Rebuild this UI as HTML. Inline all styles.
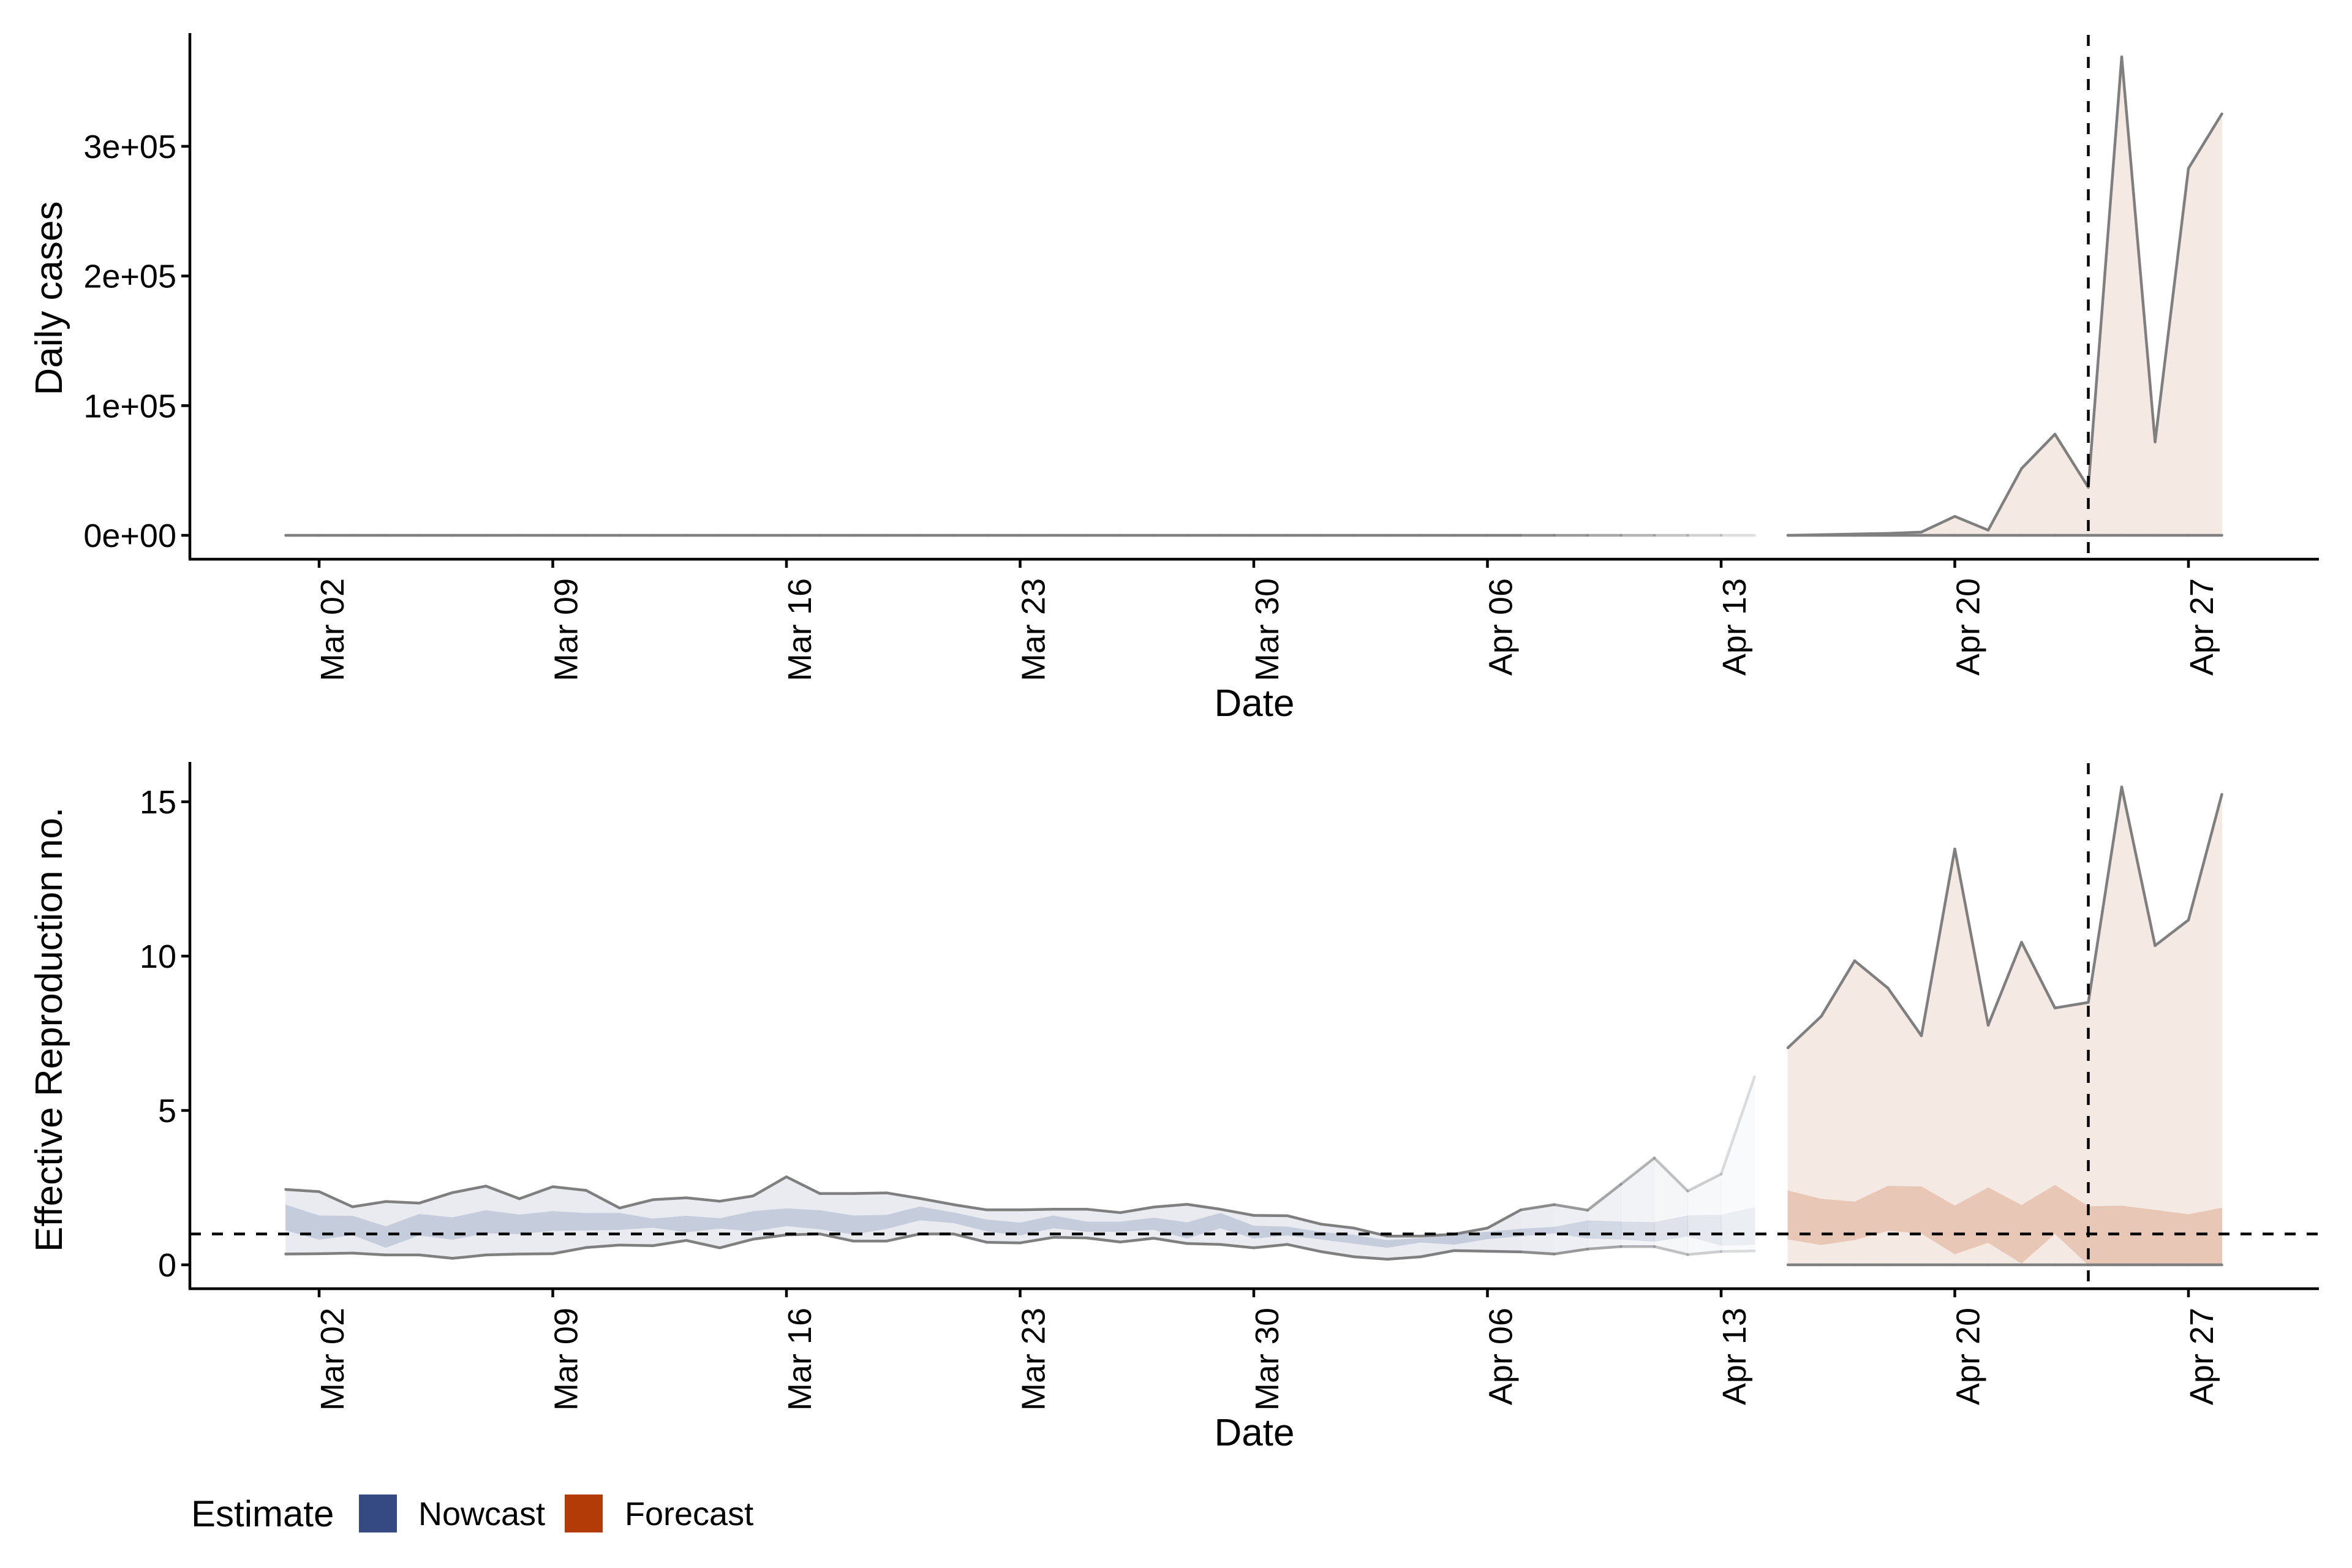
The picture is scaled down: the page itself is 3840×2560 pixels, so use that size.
<!DOCTYPE html>
<html><head><meta charset="utf-8"><style>
html,body{margin:0;padding:0;background:#fff;}
svg{display:block;font-family:"Liberation Sans",Arial,sans-serif;}
</style></head><body>
<svg id="chart" width="3840" height="2560" viewBox="0 0 3840 2560" xmlns="http://www.w3.org/2000/svg">
<rect width="3840" height="2560" fill="#fff"/>
<g id="topPanel"></g>
<g id="botPanel"></g>
<g id="legend">
  <text x="312" y="2492" font-size="60">Estimate</text>
  <rect x="586" y="2440" width="62" height="62" fill="#354a82"/>
  <text x="683" y="2490" font-size="54">Nowcast</text>
  <rect x="922" y="2440" width="62" height="62" fill="#b33b08"/>
  <text x="1020" y="2490" font-size="54">Forecast</text>
</g>
</svg>
<script>
// ---- data ----
const nowcastStartDay = 0;   // Mar 01 = day 0
const forecastStartDay = 45; // Apr 15
const estimateDateDay = 54;  // Apr 24
const xTickLabels = ["Mar 02","Mar 09","Mar 16","Mar 23","Mar 30","Apr 06","Apr 13","Apr 20","Apr 27"];
const xTickDays = [1,8,15,22,29,36,43,50,57];
const casesTickLabels = ["0e+00","1e+05","2e+05","3e+05"];
const casesTickValues = [0,100000,200000,300000];
const rTickLabels = ["0","5","10","15"];
const rTickValues = [0,5,10,15];

const nowU90 = [2.44,2.37,1.88,2.05,2.0,2.34,2.55,2.14,2.53,2.41,1.84,2.11,2.17,2.06,2.23,2.85,2.31,2.31,2.33,2.15,1.95,1.78,1.78,1.80,1.80,1.69,1.87,1.96,1.80,1.60,1.59,1.32,1.19,0.93,0.93,0.99,1.19,1.78,1.95,1.77,2.61,3.46,2.39,2.94,6.09];
const nowL90 = [0.35,0.36,0.38,0.32,0.32,0.21,0.32,0.35,0.36,0.56,0.64,0.62,0.79,0.55,0.83,0.97,1.0,0.77,0.77,1.0,1.0,0.73,0.71,0.89,0.87,0.74,0.86,0.69,0.66,0.55,0.66,0.43,0.26,0.18,0.26,0.46,0.44,0.42,0.35,0.51,0.59,0.59,0.33,0.43,0.45];
const nowU50 = [1.94,1.59,1.58,1.24,1.64,1.53,1.76,1.62,1.73,1.67,1.67,1.49,1.58,1.50,1.73,1.82,1.76,1.59,1.61,1.88,1.69,1.46,1.36,1.59,1.39,1.39,1.52,1.37,1.67,1.26,1.23,1.06,0.96,0.79,0.86,0.99,1.06,1.16,1.22,1.43,1.39,1.37,1.59,1.61,1.85];
const nowL50 = [1.12,0.82,0.97,0.56,0.96,0.82,1.03,1.0,1.11,1.12,1.14,1.21,1.06,1.18,1.09,1.26,1.16,0.99,1.17,1.45,1.36,1.09,0.96,1.19,1.08,1.08,1.14,0.86,1.19,0.86,0.96,0.83,0.69,0.56,0.73,0.66,0.84,0.93,1.03,0.86,0.83,0.76,0.93,0.63,0.66];
const fcU90 = [7.03,8.05,9.85,8.96,7.42,13.47,7.76,10.45,8.32,8.5,15.48,10.34,11.17,15.24];
const fcU50 = [2.40,2.13,2.04,2.55,2.53,1.91,2.50,1.93,2.58,1.89,1.91,1.77,1.63,1.84];
const fcL50 = [0.83,0.65,0.81,1.11,1.02,0.35,0.72,0.05,1.01,0,0,0,0,0];
const fcL90 = [0,0,0,0,0,0,0,0,0,0,0,0,0,0];
const casesNowU = [0,0,0,0,0,0,0,0,0,0,0,0,0,0,0,0,0,0,0,0,0,0,0,0,0,0,0,0,0,0,0,0,0,0,0,0,0,0,0,0,0,0,0,0,0];
const casesNowL = [0,0,0,0,0,0,0,0,0,0,0,0,0,0,0,0,0,0,0,0,0,0,0,0,0,0,0,0,0,0,0,0,0,0,0,0,0,0,0,0,0,0,0,0,0];
const casesFcU = [0,500,1000,1500,2500,14600,4000,51500,78000,37000,369000,72000,283000,325000];
const casesFcL = [0,0,0,0,0,0,0,0,0,0,0,0,0,0];

// ---- scales ----
const X0 = 310, X1 = 3786;
const xs = d => 466.5 + d * 54.5;
const yCases = v => 874 - v / 100000 * 211.7;
const yR = v => 2065 - v * 50.4;
const NS = "http://www.w3.org/2000/svg";
function mk(tag, attrs, parent){ const e = document.createElementNS(NS, tag); for (const k in attrs) e.setAttribute(k, attrs[k]); parent.appendChild(e); return e; }
function alphaNow(i){ return i < 37 ? 1 : Math.max(0.15, 1 - (i - 36) / 8 * 0.85); }

function band(parent, start, up, lo, ys, fill, fade, name){
  for (let i = 0; i < up.length - 1; i++){
    const d = start + i;
    const pts = [[xs(d), ys(up[i])],[xs(d+1), ys(up[i+1])],[xs(d+1), ys(lo[i+1])],[xs(d), ys(lo[i])]];
    const p = mk("polygon", {points: pts.map(p=>p.join(",")).join(" "), fill: fill, "fill-opacity": fade ? alphaNow(i) : 1, stroke: fill, "stroke-width": 0.8, "stroke-opacity": fade ? alphaNow(i) : 1}, parent);
    
    
  }
}
function line(parent, start, vals, ys, fade, name){
  for (let i = 0; i < vals.length - 1; i++){
    const d = start + i;
    const l = mk("line", {x1: xs(d), y1: ys(vals[i]), x2: xs(d+1), y2: ys(vals[i+1]), stroke: "#7f7f7f", "stroke-width": 4.5, "stroke-linecap": "round", "stroke-opacity": fade ? alphaNow(i) : 1}, parent);
    
    
  }
}
function axes(parent, topY, bottom, ticksV, ticksL, ys, yTitle, yTitleY, dateBase){
  const ya = mk("line", {x1: X0, y1: topY, x2: X0, y2: bottom, stroke: "#000", "stroke-width": 4.5}, parent);
  
  
  const xa = mk("line", {x1: X0 - 2, y1: bottom, x2: X1, y2: bottom, stroke: "#000", "stroke-width": 4.5}, parent);
  
  
  ticksV.forEach((v, i) => {
    const t = mk("line", {x1: X0 - 14, y1: ys(v), x2: X0, y2: ys(v), stroke: "#000", "stroke-width": 4.5}, parent);
    
    
    const tx = mk("text", {x: 288, y: ys(v) + 19, "font-size": 54, "text-anchor": "end", fill: "#000"}, parent);
    tx.textContent = ticksL[i];
    
    
  });
  xTickDays.forEach((d, i) => {
    const x = xs(d);
    const t = mk("line", {x1: x, y1: bottom, x2: x, y2: bottom + 14, stroke: "#000", "stroke-width": 4.5}, parent);
    
    
    const tx = mk("text", {x: 0, y: 0, "font-size": 54, "text-anchor": "end", fill: "#000", transform: `translate(${x + 40},${bottom + 31}) rotate(-90)`}, parent);
    tx.textContent = xTickLabels[i];
    
    
  });
  const xt = mk("text", {x: (X0 + X1) / 2, y: dateBase, "font-size": 62, "text-anchor": "middle"}, parent);
  xt.textContent = "Date";
  
  
  const yt = mk("text", {x: 0, y: 0, "font-size": 62, "text-anchor": "middle", transform: `translate(101,${yTitleY}) rotate(-90)`}, parent);
  yt.textContent = yTitle;
  
  
}

// ---- top panel ----
const topPanel = document.getElementById("topPanel");
band(topPanel, forecastStartDay, casesFcU, casesFcL, yCases, "#f5eae3", false, "cases-forecast-band");
line(topPanel, nowcastStartDay, casesNowU, yCases, true, "cases-nowcast-line");
line(topPanel, forecastStartDay, casesFcL, yCases, false, "cases-forecast-lower-line");
line(topPanel, forecastStartDay, casesFcU, yCases, false, "cases-forecast-upper-line");
const v1 = mk("line", {x1: xs(estimateDateDay), y1: 57, x2: xs(estimateDateDay), y2: 913, stroke: "#000", "stroke-width": 4.5, "stroke-dasharray": "18 18"}, topPanel);


axes(topPanel, 54, 913, casesTickValues, casesTickLabels, yCases, "Daily cases", 487, 1169);

// ---- bottom panel ----
const botPanel = document.getElementById("botPanel");
band(botPanel, nowcastStartDay, nowU90, nowL90, yR, "#e9ebf1", true, "nowcast-90-band");
band(botPanel, nowcastStartDay, nowU50, nowL50, yR, "#c5ccdc", true, "nowcast-50-band");
band(botPanel, forecastStartDay, fcU90, fcL90, yR, "#f5eae3", false, "forecast-90-band");
band(botPanel, forecastStartDay, fcU50, fcL50, yR, "#e8c7b6", false, "forecast-50-band");
line(botPanel, nowcastStartDay, nowU90, yR, true, "nowcast-upper-line");
line(botPanel, nowcastStartDay, nowL90, yR, true, "nowcast-lower-line");
line(botPanel, forecastStartDay, fcU90, yR, false, "forecast-upper-line");
line(botPanel, forecastStartDay, fcL90, yR, false, "forecast-lower-line");
const h1 = mk("line", {x1: X0, y1: yR(1), x2: X1, y2: yR(1), stroke: "#000", "stroke-width": 4.5, "stroke-dasharray": "18 18"}, botPanel);


const v2 = mk("line", {x1: xs(estimateDateDay), y1: 1246, x2: xs(estimateDateDay), y2: 2104, stroke: "#000", "stroke-width": 4.5, "stroke-dasharray": "18 18"}, botPanel);


axes(botPanel, 1244, 2104, rTickValues, rTickLabels, yR, "Effective Reproduction no.", 1681, 2360);
</script>
</body></html>
